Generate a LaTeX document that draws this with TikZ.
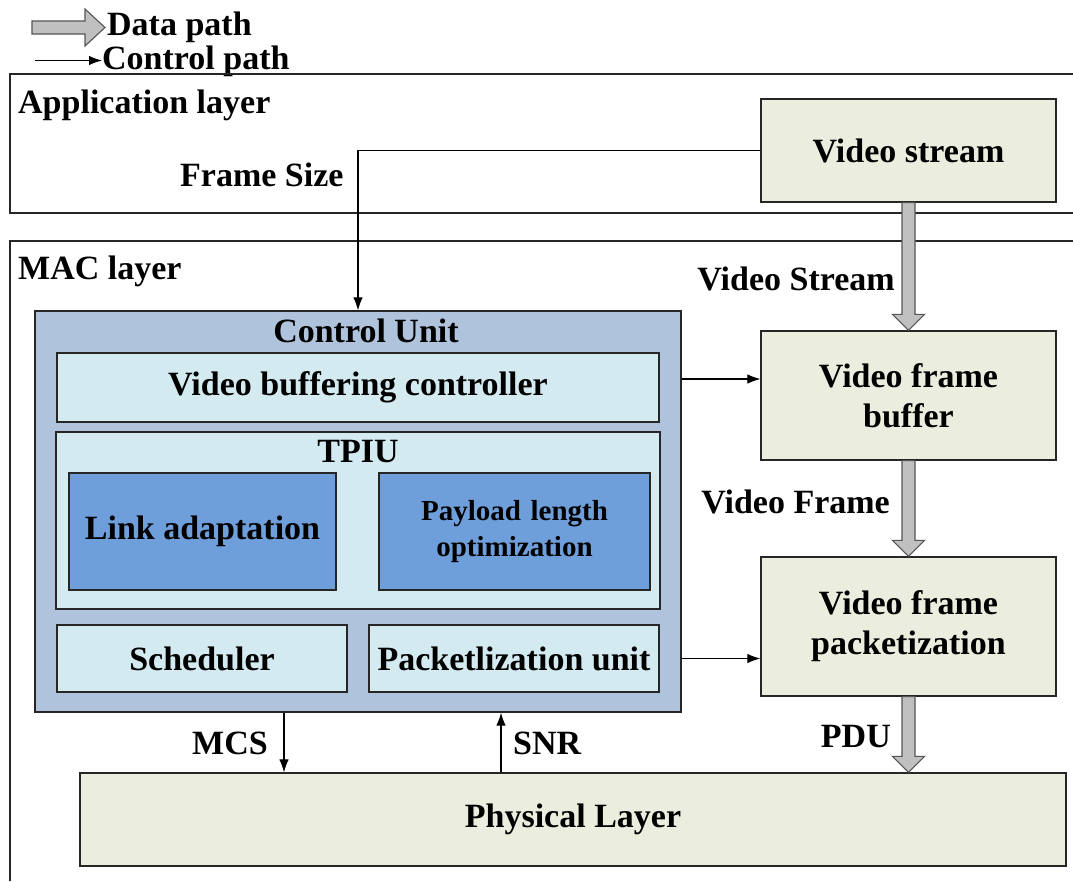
\documentclass[tikz,border=0pt]{standalone}
\usepackage{fontspec}
\setmainfont{Liberation Serif}
\usetikzlibrary{calc,arrows.meta}

\definecolor{boxgreen}{HTML}{EBEEDE}
\definecolor{unitblue}{HTML}{B0C3DC}
\definecolor{paleblue}{HTML}{D3EAF0}
\definecolor{midblue}{HTML}{6F9FDB}
\definecolor{flowgray}{HTML}{C0C0C0}
\definecolor{flowedge}{HTML}{555555}

\tikzset{
  txt/.style={font=\fontsize{34}{40}\selectfont\bfseries, inner sep=0pt},
  smalltxt/.style={font=\fontsize{29}{36}\selectfont\bfseries, inner sep=0pt},
  block/.style={draw=black!85, line width=1.3pt, inner sep=0pt, align=center, txt},
  greenbox/.style={block, fill=boxgreen},
  unitbox/.style={block, fill=unitblue},
  palebox/.style={block, fill=paleblue},
  bluebox/.style={block, fill=midblue},
  layerline/.style={draw=black!85, line width=1.2pt},
  ctrl/.style={draw=black, line width=1.1pt, -{Latex[length=13pt,width=9.5pt]}},
  dataarrow/.style={draw=flowedge, line width=1.1pt, fill=flowgray, line join=miter},
}

% thick grey data arrow pointing straight down from #1 to the level of #2
\newcommand{\dataflow}[2]{%
  \path[dataarrow] let \p1=(#1), \p2=(#2) in
    (\x1-6.5pt,\y1) -- (\x1-6.5pt,\y2+16pt) -- (\x1-16pt,\y2+16pt) -- (\x1,\y2)
    -- (\x1+16pt,\y2+16pt) -- (\x1+6.5pt,\y2+16pt) -- (\x1+6.5pt,\y1) -- cycle;}

\begin{document}
\begin{tikzpicture}[x=1pt, y=-1pt]
\useasboundingbox[fill=white] (0,0) rectangle (1073,881);

% legend
\coordinate (legA) at (32,27.5);
\coordinate (legB) at (105,27.5);
\path[dataarrow] (legA) ++(0,-6.5) -- ++(53,0) -- ++(0,-12) -- (legB) -- ++(-20,18.5) -- ++(0,-12) -- ++(-53,0) -- cycle;
\node[txt, anchor=base west] (legdata) at (107,35) {Data path};
\coordinate (legC) at (35,60.5);
\node[txt, anchor=base west] (legctrl) at (102,69) {Control path};
\draw[ctrl] (legC) -- (legctrl.west |- legC);

% layer frames
\draw[layerline] (1073,74) -- (10,74) -- (10,213) -- (1073,213);
\draw[layerline] (1073,241) -- (10,241) -- (10,881);
\node[txt, anchor=base west] (applbl) at (18,113) {Application layer};
\node[txt, anchor=base west] (maclbl) at (18,279) {MAC layer};

% right-hand video pipeline
\node[greenbox, minimum width=295, minimum height=103] (vs) at (908.5,150.5) {Video stream};
\node[greenbox, minimum width=295, minimum height=129] (vfb) at (908.5,395.5) {Video frame\\buffer};
\node[greenbox, minimum width=295, minimum height=139] (vfp) at (908.5,626.5) {Video frame\\packetization};
\node[greenbox, minimum width=986, minimum height=93] (phy) at (573,819.5) {Physical Layer};

% control unit and its parts
\node[unitbox, minimum width=646, minimum height=401] (cu) at (358,511.5) {};
\node[txt] (culbl) at (366,331) {Control Unit};
\node[palebox, minimum width=602, minimum height=69] (vbc) at (358,387.5) {Video buffering controller};
\node[palebox, minimum width=604, minimum height=177] (tpiu) at (358,520.5) {};
\node[txt] (tpiulbl) at (358,452) {TPIU};
\node[bluebox, minimum width=267, minimum height=117] (la) at (202.5,531.5) {Link adaptation};
\node[bluebox, minimum width=271, minimum height=117, smalltxt, text width=260] (plo) at (514.5,531.5) {Payload length\\optimization};
\node[palebox, minimum width=290, minimum height=67] (sch) at (202,658.5) {Scheduler};
\node[palebox, minimum width=290, minimum height=67] (pkt) at (514,658.5) {Packetlization unit};

% data path
\dataflow{vs.south}{vfb.north}
\dataflow{vfb.south}{vfp.north}
\dataflow{vfp.south}{phy.north -| vfp.south}
\node[txt, anchor=base east] (vslbl) at (895,290) {Video Stream};
\node[txt, anchor=base east] (vflbl) at (890,513) {Video Frame};
\node[txt, anchor=base east] (pdulbl) at (891,747) {PDU};

% control path
\draw[ctrl] (vs.west) -| (cu.north);
\node[txt, anchor=base west] (fslbl) at (180,186) {Frame Size};
\draw[ctrl] ([yshift=8.5pt]cu.east |- vbc.east) -- ([yshift=8.5pt]vfb.west |- vbc.east);
\draw[ctrl] (cu.east |- pkt.east) -- (vfp.west |- pkt.east);
\coordinate (mcsx) at (284,0);
\coordinate (snrx) at (501,0);
\draw[ctrl] (cu.south -| mcsx) -- (phy.north -| mcsx);
\draw[ctrl] (phy.north -| snrx) -- (cu.south -| snrx);
\node[txt, anchor=base east] (mcslbl) at (268,754) {MCS};
\node[txt, anchor=base west] (snrlbl) at (513,754) {SNR};
\end{tikzpicture}
\end{document}
